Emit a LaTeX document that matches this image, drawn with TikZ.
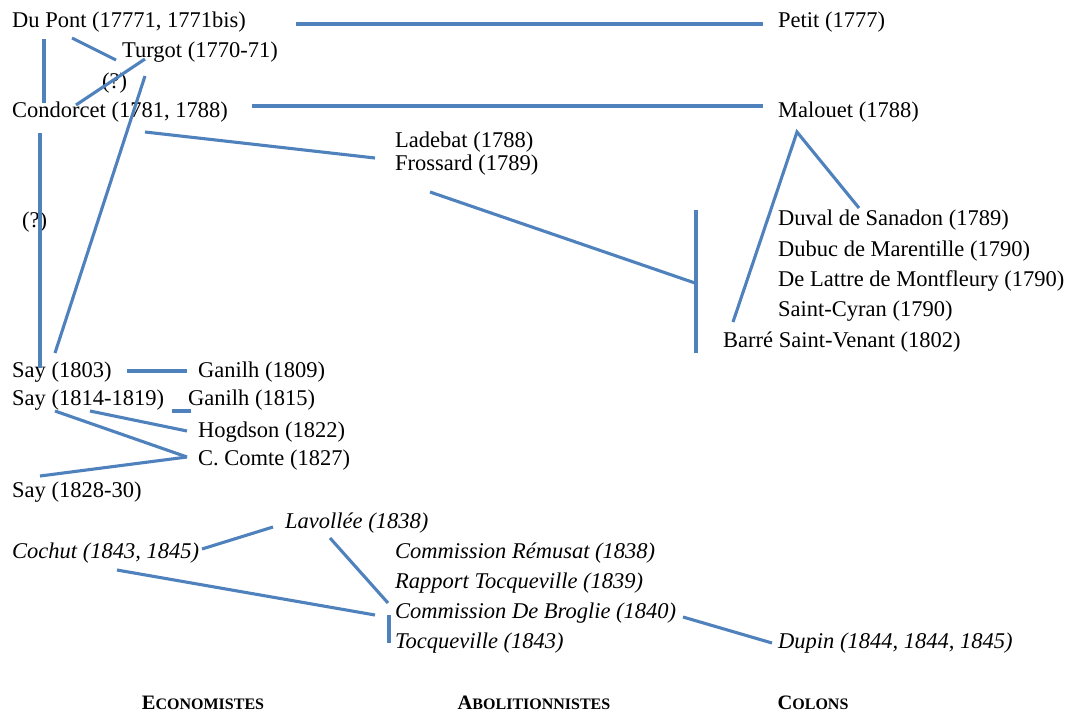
\documentclass[tikz,border=0pt]{standalone}
\usepackage{fontspec}
\setmainfont{Liberation Serif}
\usepackage{tikz}
\usepackage{xcolor}
\usetikzlibrary{positioning}
\definecolor{linkblue}{RGB}{79,129,189}

\begin{document}
\begin{tikzpicture}[x=1pt, y=-1pt,
    author/.style={anchor=base west, inner sep=0pt, font=\fontsize{22.5}{27}\selectfont},
    writing/.style={author, font=\fontsize{22.5}{27}\selectfont\itshape},
    camp/.style={anchor=base, inner sep=0pt, font=\fontsize{20.5}{22}\selectfont\bfseries},
    link/.style={draw=linkblue, line width=3.1pt}]
    \useasboundingbox (0,0) rectangle (1073,713);
    \node[author] (dupont) at (12,27) {Du Pont (17771, 1771bis)};
    \node[author] (turgot) at (122,57) {Turgot (1770-71)};
    \node[author] (doubta) at (102,88) {(?)};
    \node[author] (condorcet) at (12,117) {Condorcet (1781, 1788)};
    \node[author] (petit) at (778,27) {Petit (1777)};
    \node[author] (malouet) at (778,117) {Malouet (1788)};
    \node[author] (ladebat) at (395,147) {Ladebat (1788)};
    \node[author] (frossard) at (395,170) {Frossard (1789)};
    \node[author] (doubtb) at (22,227) {(?)};
    \node[author] (duval) at (778,225) {Duval de Sanadon (1789)};
    \node[author] (dubuc) at (778,256) {Dubuc de Marentille (1790)};
    \node[author] (delattre) at (778,286) {De Lattre de Montfleury (1790)};
    \node[author] (cyran) at (778,316) {Saint-Cyran (1790)};
    \node[author] (barre) at (723,347) {Barré Saint-Venant (1802)};
    \node[author] (saya) at (12,377) {Say (1803)};
    \node[author] (ganilha) at (198,377) {Ganilh (1809)};
    \node[author] (sayb) at (12,405) {Say (1814-1819)};
    \node[author] (ganilhb) at (188,405) {Ganilh (1815)};
    \node[author] (hogdson) at (198,437) {Hogdson (1822)};
    \node[author] (comte) at (198,465) {C. Comte (1827)};
    \node[author] (sayc) at (12,497) {Say (1828-30)};
    \node[writing] (lavollee) at (285,528) {Lavollée (1838)};
    \node[writing] (cochut) at (12,558) {Cochut (1843, 1845)};
    \node[writing] (remusat) at (395,558) {Commission Rémusat (1838)};
    \node[writing] (rapport) at (395,588) {Rapport Tocqueville (1839)};
    \node[writing] (broglie) at (395,618) {Commission De Broglie (1840)};
    \node[writing] (tocqueville) at (395,648) {Tocqueville (1843)};
    \node[writing] (dupin) at (778,648) {Dupin (1844, 1844, 1845)};
    \node[camp] (economistes) at (203,709) {E\fontsize{16}{18}\selectfont CONOMISTES};
    \node[camp] (abolition) at (534,709) {A\fontsize{16}{18}\selectfont BOLITIONNISTES};
    \node[camp] (colons) at (813,709) {C\fontsize{16}{18}\selectfont OLONS};
    \coordinate (bartop) at (696,210);
    \coordinate (barjoin) at (695,283);
    \coordinate (barbottom) at (696,353);
    \draw[link] ([shift={(284,-3)}]dupont.base west) -- ([shift={(-15,-3)}]petit.base west);
    \draw[link] ([shift={(240,-11)}]condorcet.base west) -- ([shift={(-15,-11)}]malouet.base west);
    \draw[link] ([shift={(32,12)}]dupont.base west) -- ([shift={(32,-14)}]condorcet.base west);
    \draw[link] ([shift={(60,11)}]dupont.base west) -- ([shift={(-6,3)}]turgot.base west);
    \draw[link] ([shift={(64,-12)}]condorcet.base west) -- ([shift={(23,2)}]turgot.base west);
    \draw[link] ([shift={(23,19)}]turgot.base west) -- ([shift={(43,-24)}]saya.base west);
    \draw[link] ([shift={(28,16)}]condorcet.base west) -- ([shift={(28,-9)}]saya.base west);
    \draw[link] ([shift={(133,15)}]condorcet.base west) -- ([shift={(-20,11)}]ladebat.base west);
    \draw[link] ([shift={(35,22)}]frossard.base west) -- (barjoin);
    \draw[link] (bartop) -- (barbottom);
    \draw[link] ([shift={(81,-17)}]duval.base west) -- ([shift={(19,15)}]malouet.base west)
        -- ([shift={(10,-25)}]barre.base west);
    \draw[link] ([shift={(115,-6)}]saya.base west) -- ([shift={(-11,-6)}]ganilha.base west);
    \draw[link] ([shift={(160,6)}]sayb.base west) -- ([shift={(3,6)}]ganilhb.base west);
    \draw[link] ([shift={(78,6)}]sayb.base west) -- ([shift={(-11,-6)}]hogdson.base west);
    \draw[link] ([shift={(43,6)}]sayb.base west) -- ([shift={(-11,-8)}]comte.base west);
    \draw[link] ([shift={(28,-21)}]sayc.base west) -- ([shift={(-11,-8)}]comte.base west);
    \draw[link] ([shift={(190,-9)}]cochut.base west) -- ([shift={(-12,-1)}]lavollee.base west);
    \draw[link] ([shift={(45,10)}]lavollee.base west) -- ([shift={(-7,-15)}]broglie.base west);
    \draw[link] ([shift={(105,12)}]cochut.base west) -- ([shift={(-20,-3)}]broglie.base west);
    \draw[link] ([shift={(-6,-3)}]broglie.base west) -- ([shift={(-6,-5)}]tocqueville.base west);
    \draw[link] ([shift={(288,-1)}]broglie.base west) -- ([shift={(-6,-5)}]dupin.base west);
\end{tikzpicture}
\end{document}
